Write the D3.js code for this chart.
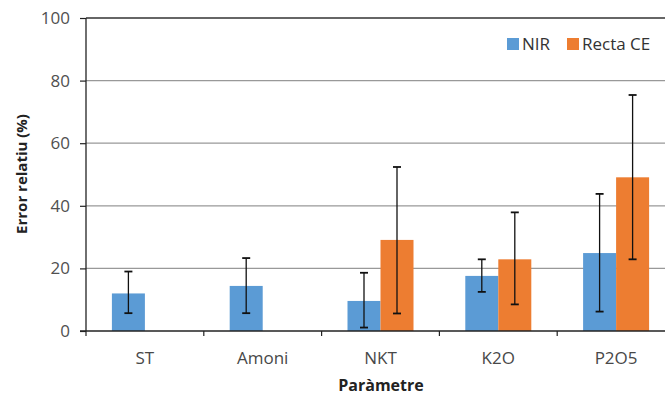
<!DOCTYPE html>
<html><head><meta charset="utf-8">
<script src="https://cdn.jsdelivr.net/npm/d3@7"></script>
<style>body{margin:0;background:#fff}svg{display:block}</style>
</head><body>
<svg id="c" width="665" height="398"></svg>
<script>
const categories = ["ST","Amoni","NKT","K2O","P2O5"];
const seriesNames = ["NIR","Recta CE"];
const nirValues = [12.0, 14.4, 9.6, 17.6, 24.9];
const nirErrLow = [5.7, 5.7, 1.1, 12.5, 6.2];
const nirErrHigh = [19.0, 23.3, 18.6, 22.9, 43.8];
const ceValues = [null, null, 29.1, 22.9, 49.1];
const ceErrLow = [null, null, 5.6, 8.5, 22.9];
const ceErrHigh = [null, null, 52.4, 37.9, 75.4];
const yTicks = [0,20,40,60,80,100];
const colors = ["#5B9BD5","#ED7D31"];

const svg = d3.select("#c");
const font = "'Open Sans', sans-serif";
const m = {left:86, top:18, right:675, bottom:331};
const x = d3.scaleBand().domain(categories).range([m.left, m.right]).paddingInner(0).paddingOuter(0);
const y = d3.scaleLinear().domain([0,100]).range([m.bottom, m.top]);
const bw = 33;
const xs = d3.scaleBand().domain(seriesNames).range([-bw, bw]);

// grid
svg.append("g").selectAll("line").data(yTicks.filter(t=>t>0)).join("line")
  .attr("x1", m.left).attr("x2", 665).attr("y1", d=>y(d)).attr("y2", d=>y(d))
  .attr("stroke", d=> d===100 ? "#333" : "#999").attr("stroke-width", 1.3);

const series = [
  {name:"NIR", v:nirValues, lo:nirErrLow, hi:nirErrHigh},
  {name:"Recta CE", v:ceValues, lo:ceErrLow, hi:ceErrHigh}
];
series.forEach((s,si)=>{
  const data = categories.map((c,i)=>({c, v:s.v[i], lo:s.lo[i], hi:s.hi[i]})).filter(d=>d.v!=null);
  const g = svg.append("g");
  g.selectAll("rect").data(data).join("rect")
    .attr("x", d=>x(d.c)+x.bandwidth()/2+xs(s.name))
    .attr("width", xs.bandwidth())
    .attr("y", d=>y(d.v)).attr("height", d=>y(0)-y(d.v))
    .attr("fill", colors[si]);
  const cx = d=>x(d.c)+x.bandwidth()/2+xs(s.name)+xs.bandwidth()/2;
  g.selectAll("line.e").data(data).join("line").attr("class","e")
    .attr("x1", cx).attr("x2", cx).attr("y1", d=>y(d.lo)).attr("y2", d=>y(d.hi))
    .attr("stroke","#111").attr("stroke-width",1.3);
  ["lo","hi"].forEach(k=>{
    g.selectAll("line."+k).data(data).join("line").attr("class",k)
      .attr("x1", d=>cx(d)-4).attr("x2", d=>cx(d)+4).attr("y1", d=>y(d[k])).attr("y2", d=>y(d[k]))
      .attr("stroke","#111").attr("stroke-width",1.8);
  });
});

// y axis
const ya = d3.axisLeft(y).tickValues(yTicks).tickSize(6).tickPadding(10);
const yg = svg.append("g").attr("transform",`translate(${m.left},0)`).call(ya);
yg.select(".domain").attr("stroke","#222").attr("stroke-width",1.3).attr("d",`M0,${m.top}V${m.bottom}`);
yg.selectAll(".tick line").attr("stroke","#222").attr("stroke-width",1.2);
yg.selectAll("text").attr("font-family",font).attr("font-size",17).attr("fill","#505050");

// x axis
const xg = svg.append("g").attr("transform",`translate(0,${m.bottom})`);
xg.append("line").attr("x1",m.left-6).attr("x2",665).attr("y1",0).attr("y2",0).attr("stroke","#222").attr("stroke-width",1.3);
xg.selectAll("line.t").data(categories).join("line").attr("class","t")
  .attr("x1",d=>x(d)).attr("x2",d=>x(d)).attr("y1",0).attr("y2",5).attr("stroke","#222").attr("stroke-width",1.2);
xg.selectAll("text").data(categories).join("text")
  .attr("x",d=>x(d)+x.bandwidth()/2).attr("y",33).attr("text-anchor","middle")
  .attr("font-family",font).attr("font-size",17).attr("fill","#484848").text(d=>d);

svg.append("text").attr("x",381).attr("y",391).attr("text-anchor","middle")
  .attr("font-family",font).attr("font-weight","bold").attr("font-size",16).attr("fill","#222").text("Paràmetre");
svg.append("text").attr("transform","translate(27,174) rotate(-90)").attr("text-anchor","middle")
  .attr("font-family",font).attr("font-weight","bold").attr("font-size",15).attr("fill","#222").text("Error relatiu (%)");

// legend
const lg = svg.append("g").attr("transform","translate(507,44)");
const items = [{n:"NIR",dx:0},{n:"Recta CE",dx:60}];
items.forEach((it,i)=>{
  lg.append("rect").attr("x",it.dx).attr("y",-6).attr("width",12).attr("height",12).attr("fill",colors[i]);
  lg.append("text").attr("x",it.dx+15).attr("y",6).attr("font-family",font).attr("font-size",17).attr("fill","#333").text(it.n);
});
</script>
</body></html>
